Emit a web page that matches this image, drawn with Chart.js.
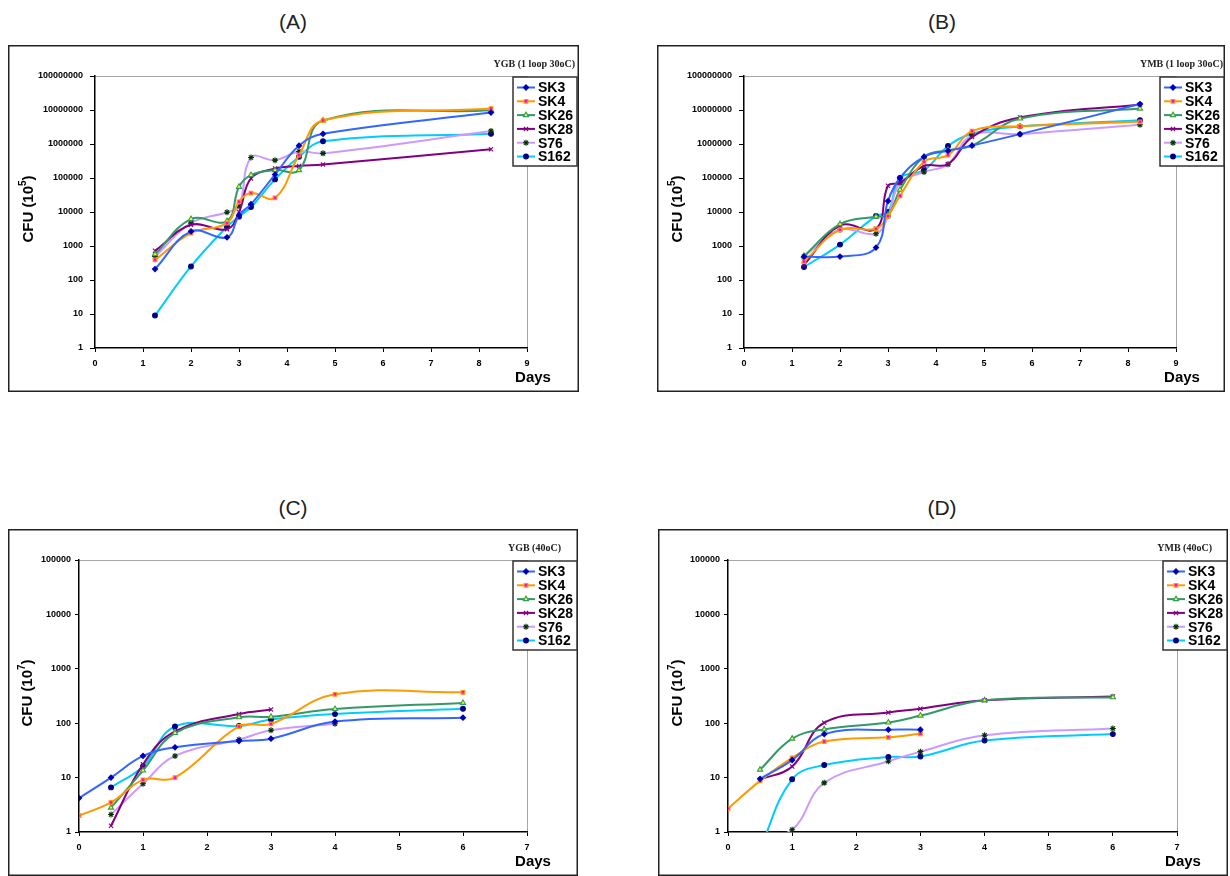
<!DOCTYPE html>
<html>
<head>
<meta charset="utf-8">
<script src="https://cdn.jsdelivr.net/npm/chart.js@4.4.0/dist/chart.umd.min.js"></script>
<style>
  body { margin: 0; background: #fff; width: 1230px; height: 876px; position: relative; overflow: hidden; font-family: "Liberation Sans", Arial, sans-serif; }
  .panelTitle { position: absolute; width: 120px; text-align: center; font-size: 21px; line-height: 24px; color: #222; }
  canvas { position: absolute; }
</style>
</head>
<body>

<div class="panelTitle" style="left:233px;top:10px">(A)</div>
<div class="panelTitle" style="left:882px;top:10px">(B)</div>
<div class="panelTitle" style="left:233px;top:496px">(C)</div>
<div class="panelTitle" style="left:882px;top:496px">(D)</div>

<canvas id="chartA" width="571" height="347" style="left:8px;top:45px"></canvas>
<canvas id="chartB" width="568" height="347" style="left:657px;top:45px"></canvas>
<canvas id="chartC" width="570" height="347" style="left:8px;top:529px"></canvas>
<canvas id="chartD" width="570" height="347" style="left:658px;top:529px"></canvas>

<script>
// ---- data ----
const seriesNames = ['SK3', 'SK4', 'SK26', 'SK28', 'S76', 'S162'];

// (A) YGB 1 loop 30oC
const daysA = [1.25, 2, 2.75, 3, 3.25, 3.75, 4.25, 4.75, 8.25];
const a_SK3  = [210, 2700, 1800, 8000, 17000, 126000, 890000, 2000000, 8400000];
const a_SK4  = [390, 2400, 4700, 20000, 36000, 26000, 470000, 4900000, 11000000];
const a_SK26 = [570, 6200, 5400, 55000, 122000, 170000, 170000, 4900000, 9800000];
const a_SK28 = [720, 4200, 3100, 10000, 97000, 190000, 225000, 250000, 700000];
const a_S76  = [490, 4700, 9800, 15000, 400000, 335000, 600000, 530000, 2400000];
const a_S162 = [9, 250, 3700, 7300, 14000, 91000, 420000, 1200000, 2000000];

// (B) YMB 1 loop 30oC
const daysB = [1.25, 2, 2.75, 3, 3.25, 3.75, 4.25, 4.75, 5.75, 8.25];
const b_SK3  = [490, 490, 900, 21000, 100000, 420000, 630000, 900000, 1950000, 15000000];
const b_SK4  = [350, 3000, 3200, 7600, 30000, 300000, 470000, 2400000, 3300000, 4500000];
const b_SK26 = [510, 4400, 7300, 8100, 45000, 420000, 660000, 900000, 5600000, 11000000];
const b_SK28 = [280, 4000, 3200, 59000, 72000, 225000, 255000, 1600000, 6000000, 14500000];
const b_S76  = [490, 3000, 2300, 7600, 72000, 150000, 255000, 1800000, 1950000, 3700000];
const b_S162 = [240, 1100, 7600, 10000, 100000, 170000, 870000, 2000000, 3300000, 5000000];

// (C) YGB 40oC and (D) YMB 40oC
const daysCD = [0, 0.5, 1, 1.5, 2.5, 3, 4, 6];
const c_SK3  = [4.2, 10, 25, 36, 47, 52, 107, 126];
const c_SK4  = [2.0, 3.5, 9.1, 10, 87, 97, 340, 370];
const c_SK26 = [null, 2.8, 13.5, 66, 129, 131, 182, 236];
const c_SK28 = [null, 1.3, 17.5, 71, 148, 178, null, null];
const c_S76  = [null, 2.1, 7.7, 25, 50, 74, 98, null];
const c_S162 = [null, 6.6, 16, 87, 89, 117, 147, 184];

const d_SK3  = [null, 9.5, 21, 63, 76, 76, null, null];
const d_SK4  = [2.7, 8.7, 23, 46, 55, 64, null, null];
const d_SK26 = [null, 14, 52, 77, 103, 138, 263, 300];
const d_SK28 = [null, 9.2, 16, 102, 158, 185, 263, 310];
const d_S76  = [null, 0.9, 1.1, 8.0, 20, 30, 60, 80];
const d_S162 = [null, 0.5, 9.3, 17, 24, 24.5, 48, 63];

const yTicksAB = [1, 10, 100, 1000, 10000, 100000, 1000000, 10000000, 100000000];
const yTicksCD = [1, 10, 100, 1000, 10000, 100000];

// ---- styles ----
const lineColors = ['#3366FF', '#FF9900', '#339966', '#800080', '#CC99FF', '#00CCFF'];
const markStyle = ['rectRot', 'rect', 'triangle', 'crossRot', 'star', 'circle'];
const markFill = ['#000099', '#FF00FF', '#FFFF00', '#800080', '#003300', '#000080'];
const markEdge = ['#0000CC', '#FF9900', '#339966', '#800080', '#003300', '#000080'];
const markSize = [2.6, 2.6, 3, 3, 3, 2.4];

const panelDeco = {
  id: 'panelDeco',
  beforeDraw: function (chart, args, opts) {
    const ctx = chart.ctx;
    const a = chart.chartArea;
    ctx.save();
    // grey plot border (top + right)
    ctx.strokeStyle = '#a6a6a6';
    ctx.lineWidth = 1;
    ctx.beginPath();
    ctx.moveTo(a.left, a.top + 0.5);
    ctx.lineTo(a.right + 0.5, a.top + 0.5);
    ctx.lineTo(a.right + 0.5, a.bottom);
    ctx.stroke();
    // outer frame
    ctx.strokeStyle = '#222';
    ctx.lineWidth = 1.5;
    ctx.strokeRect(0.75, 0.75, chart.width - 1.5, chart.height - 1.5);
    // subtitle
    ctx.fillStyle = '#222';
    ctx.font = 'bold 10px "Liberation Serif"';
    ctx.textAlign = 'right';
    ctx.textBaseline = 'middle';
    ctx.fillText(opts.subtitle, opts.subX, 19);
    // Days
    ctx.fillStyle = '#000';
    ctx.font = 'bold 15px "Liberation Sans"';
    ctx.textAlign = 'center';
    ctx.fillText('Days', 525, 333);
    // CFU (10^n)
    ctx.translate(opts.titleX, 164);
    ctx.rotate(-Math.PI / 2);
    ctx.textAlign = 'left';
    const big = 'bold 15px "Liberation Sans"';
    const small = 'bold 10px "Liberation Sans"';
    ctx.font = big;
    const w1 = ctx.measureText('CFU (10').width;
    const w3 = ctx.measureText(')').width;
    ctx.font = small;
    const w2 = ctx.measureText(opts.power).width;
    let x0 = -(w1 + w2 + w3) / 2;
    ctx.font = big;
    ctx.fillText('CFU (10', x0, 0);
    ctx.font = small;
    ctx.fillText(opts.power, x0 + w1, -6);
    ctx.font = big;
    ctx.fillText(')', x0 + w1 + w2, 0);
    ctx.restore();
  },
  afterDraw: function (chart, args, opts) {
    const ctx = chart.ctx;
    const lg = opts.legend;
    ctx.save();
    ctx.fillStyle = '#fff';
    ctx.fillRect(lg.x, lg.y, lg.w, lg.h);
    ctx.strokeStyle = '#333';
    ctx.lineWidth = 1.5;
    ctx.strokeRect(lg.x, lg.y, lg.w, lg.h);
    chart.data.datasets.forEach(function (ds, i) {
      const cy = lg.y + 10.5 + i * 13.8;
      ctx.strokeStyle = ds.borderColor;
      ctx.lineWidth = 2;
      ctx.beginPath();
      ctx.moveTo(lg.x + 4, cy);
      ctx.lineTo(lg.x + 22, cy);
      ctx.stroke();
      ctx.fillStyle = ds.pointBackgroundColor;
      ctx.strokeStyle = ds.pointBorderColor;
      ctx.lineWidth = ds.pointBorderWidth;
      Chart.helpers.drawPoint(ctx, {
        pointStyle: ds.pointStyle, radius: ds.pointRadius, rotation: 0, borderWidth: ds.pointBorderWidth
      }, lg.x + 13, cy);
      ctx.fillStyle = '#000';
      ctx.font = 'bold 14px "Liberation Sans"';
      ctx.textAlign = 'left';
      ctx.textBaseline = 'middle';
      ctx.fillText(ds.label, lg.x + 25, cy + 1);
    });
    ctx.restore();
  }
};

let growth = {

  makeSets: function (days, values) {
    return values.map(function (vals, i) {
      return {
        label: seriesNames[i],
        data: days.map((d, k) => ({ x: d, y: vals[k] })),
        borderColor: lineColors[i],
        borderWidth: 2,
        tension: 0.4,
        fill: false,
        pointStyle: markStyle[i],
        pointRadius: markSize[i],
        pointBackgroundColor: markFill[i],
        pointBorderColor: markEdge[i],
        pointBorderWidth: 1.1
      };
    });
  },

  panel: function (id, cfg) {
    const canvas = document.getElementById(id);
    const w = canvas.width, h = canvas.height;
    const tickFont = { family: 'Liberation Sans', size: 9, weight: 'bold' };
    new Chart(canvas.getContext('2d'), {
      type: 'line',
      data: { datasets: growth.makeSets(cfg.days, cfg.values) },
      options: {
        responsive: false,
        animation: false,
        layout: { padding: { top: 31, right: w - 519, left: 0, bottom: 0 } },
        plugins: {
          legend: { display: false },
          tooltip: { enabled: false },
          panelDeco: {
            subtitle: cfg.subtitle, subX: cfg.subX, titleX: cfg.titleX, power: cfg.power,
            legend: { x: cfg.legendX, y: 32, w: 64, h: 89 }
          }
        },
        scales: {
          x: {
            type: 'linear', min: 0, max: cfg.xMax,
            afterFit: function (s) { s.height = h - 303; },
            ticks: { stepSize: 1, font: tickFont, color: '#000', padding: 6, maxRotation: 0 },
            grid: { drawOnChartArea: false, tickLength: 4, color: '#000' },
            border: { color: '#000', width: 1.5 }
          },
          y: {
            type: 'logarithmic', min: 1, max: cfg.yTicks[cfg.yTicks.length - 1],
            afterFit: function (s) { s.width = cfg.yWidth; },
            afterBuildTicks: function (s) { s.ticks = cfg.yTicks.map(v => ({ value: v })); },
            ticks: { callback: v => String(v), font: tickFont, color: '#000', padding: cfg.yPad, autoSkip: false },
            grid: { drawOnChartArea: false, tickLength: cfg.yTick, color: '#000' },
            border: { color: '#000', width: 1.5 }
          }
        }
      },
      plugins: [panelDeco]
    });
  }
};

growth.panel('chartA', {
  days: daysA, values: [a_SK3, a_SK4, a_SK26, a_SK28, a_S76, a_S162],
  xMax: 9, yTicks: yTicksAB, yWidth: 87, yPad: 7, yTick: 5,
  subtitle: 'YGB (1 loop 30oC)', subX: 567, titleX: 21, power: '5', legendX: 505
});

growth.panel('chartB', {
  days: daysB, values: [b_SK3, b_SK4, b_SK26, b_SK28, b_S76, b_S162],
  xMax: 9, yTicks: yTicksAB, yWidth: 87, yPad: 7, yTick: 5,
  subtitle: 'YMB (1 loop 30oC)', subX: 566, titleX: 21, power: '5', legendX: 503
});

growth.panel('chartC', {
  days: daysCD, values: [c_SK3, c_SK4, c_SK26, c_SK28, c_S76, c_S162],
  xMax: 7, yTicks: yTicksCD, yWidth: 71, yPad: 4, yTick: 4,
  subtitle: 'YGB (40oC)', subX: 553, titleX: 20, power: '7', legendX: 505
});

growth.panel('chartD', {
  days: daysCD, values: [d_SK3, d_SK4, d_SK26, d_SK28, d_S76, d_S162],
  xMax: 7, yTicks: yTicksCD, yWidth: 70, yPad: 4, yTick: 4,
  subtitle: 'YMB (40oC)', subX: 554, titleX: 20, power: '7', legendX: 505
});
</script>
</body>
</html>
